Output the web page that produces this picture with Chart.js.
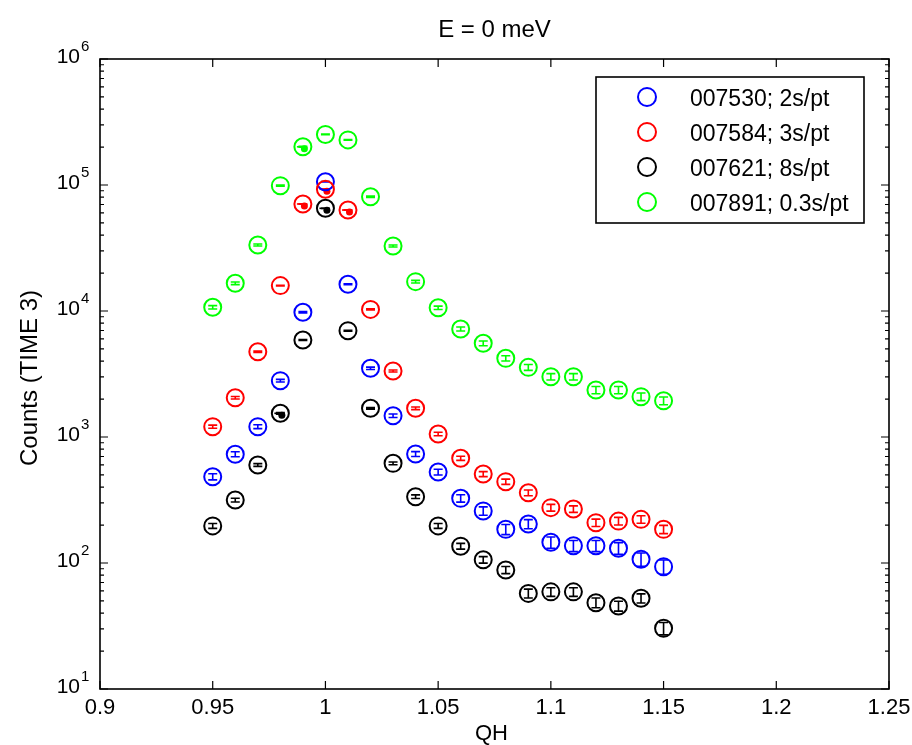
<!DOCTYPE html>
<html>
<head>
<meta charset="utf-8">
<script src="https://cdn.jsdelivr.net/npm/chart.js@4.4.1/dist/chart.umd.min.js"></script>
<style>
  body { margin: 0; background: #fff; }
  canvas { display: block; }
</style>
</head>
<body>
<canvas id="scanChart" width="912" height="745"></canvas>
<script>
// QH positions of the scan
const qh = [0.95, 0.96, 0.97, 0.98, 0.99, 1.00, 1.01, 1.02, 1.03, 1.04, 1.05,
            1.06, 1.07, 1.08, 1.09, 1.10, 1.11, 1.12, 1.13, 1.14, 1.15];

// counts (TIME 3) per scan
const counts7530 = [484, 730, 1208, 2800, 9770, 106000, 16300, 3510, 1476, 733, 527,
                    326, 259, 185, 204, 146, 137, 137, 131, 107, 93.5];
const counts7584 = [1208, 2050, 4750, 15900, 70700, 92500, 63300, 10300, 3340, 1690, 1057,
                    678, 508, 442, 361, 275, 268, 209, 215, 222, 185];
const counts7621 = [197, 316, 600, 1542, 5890, 65300, 6980, 1690, 618, 336, 197,
                    136, 106, 88, 57.4, 59, 59, 48.4, 45.6, 52.5, 30.3];
const counts7891 = [10700, 16600, 33400, 98800, 201000, 252000, 228000, 80700, 32800, 17100, 10600,
                    7200, 5540, 4210, 3570, 3010, 3010, 2360, 2360, 2090, 1940];

// error bars
const err7530 = [27, 33, 43, 65, 121, 399, 156, 73, 47, 33, 28, 22, 20, 17, 17, 15, 14, 14, 14, 13, 12];
const err7584 = [35, 45, 69, 126, 266, 304, 252, 101, 58, 41, 33, 26, 23, 21, 19, 17, 16, 14, 15, 15, 14];
const err7621 = [8.6, 10.9, 15, 24, 47, 156, 51, 25, 15.2, 11.2, 8.6, 7.1, 6.3, 5.7, 4.6, 4.7, 4.7, 4.3, 4.1, 4.4, 3.4];
const err7891 = [327, 407, 578, 994, 1418, 1587, 1510, 898, 573, 413, 326, 268, 235, 205, 189, 173, 173, 154, 154, 145, 139];

const scanNames = ['007530; 2s/pt', '007584; 3s/pt', '007621; 8s/pt', '007891; 0.3s/pt'];
const scanColors = ['#0000ff', '#ff0000', '#000000', '#00ff00'];

// points where the plotted error bar shows as a filled blob: [scan, qh]
const blobPoints = [[1, 0.99], [1, 1.00], [1, 1.01], [2, 0.98], [2, 1.00], [3, 0.99]];

const xTickLabels = ['0.9', '0.95', '1', '1.05', '1.1', '1.15', '1.2', '1.25'];
const yTickExponents = [1, 2, 3, 4, 5, 6];

const allCounts = [counts7530, counts7584, counts7621, counts7891];
const allErrors = [err7530, err7584, err7621, err7891];

const FONT = "'Liberation Sans', Arial, Helvetica, sans-serif";

const datasets = allCounts.map((vals, i) => ({
    label: scanNames[i],
    data: vals.map((v, j) => ({ x: qh[j], y: v })),
    borderColor: scanColors[i],
    backgroundColor: 'rgba(0,0,0,0)',
    pointRadius: 8.5,
    pointBorderWidth: 2,
    pointStyle: 'circle',
    showLine: false,
    order: 4 - i
}));

const framePlugin = {
    id: 'frame',
    beforeDatasetsDraw(chart) {
        const ctx = chart.ctx;
        const xs = chart.scales.x, ys = chart.scales.y;
        ctx.save();
        ctx.lineWidth = 1.6;
        allCounts.forEach((vals, i) => {
            ctx.strokeStyle = scanColors[i];
            vals.forEach((v, j) => {
                const e = allErrors[i][j];
                const px = xs.getPixelForValue(qh[j]);
                const yTop = ys.getPixelForValue(v + e);
                const yBot = ys.getPixelForValue(v - e);
                ctx.beginPath();
                ctx.moveTo(px, yTop); ctx.lineTo(px, yBot);
                ctx.moveTo(px - 4.5, yTop); ctx.lineTo(px + 4.5, yTop);
                ctx.moveTo(px - 4.5, yBot); ctx.lineTo(px + 4.5, yBot);
                ctx.stroke();
            });
        });
        blobPoints.forEach(([i, q]) => {
            const j = qh.indexOf(q);
            const px = xs.getPixelForValue(q);
            const py = ys.getPixelForValue(allCounts[i][j]);
            ctx.strokeStyle = scanColors[i];
            ctx.fillStyle = scanColors[i];
            ctx.beginPath();
            ctx.moveTo(px - 6, py); ctx.lineTo(px, py);
            ctx.stroke();
            ctx.beginPath();
            ctx.arc(px + 1.5, py + 2, 3.5, 0, Math.PI * 2);
            ctx.fill();
        });
        ctx.restore();
    },
    afterDraw(chart) {
        const ctx = chart.ctx;
        const area = chart.chartArea;
        const xs = chart.scales.x, ys = chart.scales.y;
        ctx.save();
        ctx.strokeStyle = '#000';
        ctx.fillStyle = '#000';

        // axes box
        ctx.lineWidth = 1.6;
        ctx.strokeRect(area.left, area.top, area.right - area.left, area.bottom - area.top);

        // x ticks, inward on bottom and top
        ctx.lineWidth = 1.2;
        ctx.font = '22px ' + FONT;
        ctx.textAlign = 'center';
        ctx.textBaseline = 'alphabetic';
        xTickLabels.forEach(lbl => {
            const px = xs.getPixelForValue(parseFloat(lbl));
            ctx.beginPath();
            ctx.moveTo(px, area.bottom); ctx.lineTo(px, area.bottom - 8);
            ctx.moveTo(px, area.top); ctx.lineTo(px, area.top + 8);
            ctx.stroke();
            ctx.fillText(lbl, px, area.bottom + 25);
        });

        // y ticks: decades and minor ticks, both sides
        yTickExponents.forEach(p => {
            const py = ys.getPixelForValue(Math.pow(10, p));
            ctx.beginPath();
            ctx.moveTo(area.left, py); ctx.lineTo(area.left + 8, py);
            ctx.moveTo(area.right, py); ctx.lineTo(area.right - 8, py);
            ctx.stroke();
            if (p < yTickExponents[yTickExponents.length - 1]) {
                for (let m = 2; m <= 9; m++) {
                    const my = ys.getPixelForValue(m * Math.pow(10, p));
                    ctx.beginPath();
                    ctx.moveTo(area.left, my); ctx.lineTo(area.left + 4, my);
                    ctx.moveTo(area.right, my); ctx.lineTo(area.right - 4, my);
                    ctx.stroke();
                }
            }
            ctx.font = '21px ' + FONT;
            ctx.textAlign = 'right';
            ctx.fillText('10', area.left - 20, py + 4);
            ctx.font = '15px ' + FONT;
            ctx.textAlign = 'left';
            ctx.fillText(String(p), area.left - 19, py - 8);
        });

        // title and axis titles
        ctx.textAlign = 'center';
        ctx.font = '24px ' + FONT;
        const midX = (area.left + area.right) / 2;
        ctx.fillText('E = 0 meV', midX, 37);
        ctx.font = '22px ' + FONT;
        ctx.fillText('QH', midX - 3, 740);
        ctx.save();
        ctx.translate(37, 378);
        ctx.rotate(-Math.PI / 2);
        ctx.font = '24px ' + FONT;
        ctx.fillText('Counts (TIME 3)', 0, 0);
        ctx.restore();

        // legend
        const boxL = area.right - 293, boxT = area.top + 18;
        ctx.lineWidth = 1.6;
        ctx.fillStyle = '#fff';
        ctx.fillRect(boxL, boxT, 268, 146);
        ctx.strokeStyle = '#000';
        ctx.strokeRect(boxL, boxT, 268, 146);
        ctx.font = '23px ' + FONT;
        ctx.textAlign = 'left';
        scanNames.forEach((name, i) => {
            const cy = boxT + 20 + i * 35;
            ctx.strokeStyle = scanColors[i];
            ctx.lineWidth = 2;
            ctx.beginPath();
            ctx.arc(boxL + 51, cy, 9, 0, Math.PI * 2);
            ctx.stroke();
            ctx.fillStyle = '#000';
            ctx.fillText(name, boxL + 94, cy + 8.5);
        });
        ctx.restore();
    }
};

new Chart(document.getElementById('scanChart'), {
    type: 'scatter',
    data: { datasets: datasets },
    options: {
        responsive: false,
        animation: false,
        events: [],
        layout: { padding: { left: 100, right: 23, top: 59, bottom: 56 } },
        plugins: {
            legend: { display: false },
            tooltip: { enabled: false },
            title: { display: false }
        },
        scales: {
            x: { type: 'linear', display: false, min: 0.9, max: 1.25 },
            y: { type: 'logarithmic', display: false, min: 10, max: 1000000 }
        }
    },
    plugins: [framePlugin]
});
</script>
</body>
</html>
